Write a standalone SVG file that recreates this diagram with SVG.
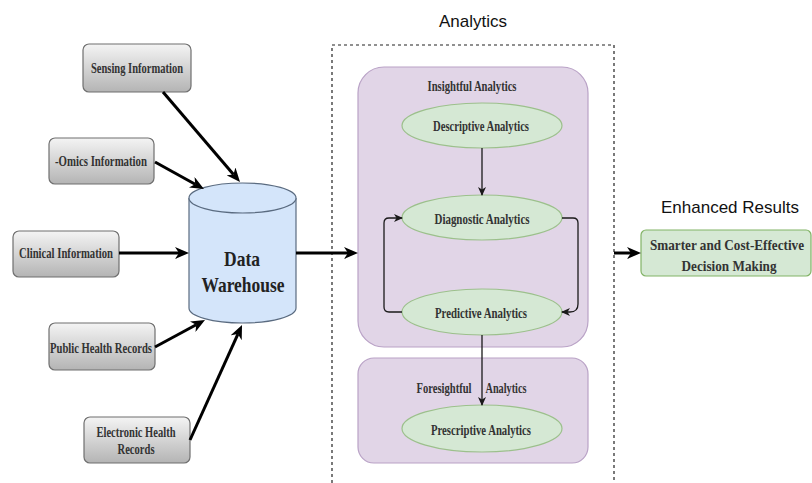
<svg xmlns="http://www.w3.org/2000/svg" width="812" height="483" viewBox="0 0 812 483">
  <style>
    .src { stroke: #6f6f6f; stroke-width: 1.2; fill: url(#grayGrad); }
    .srcText { font-family: "Liberation Serif", "Times New Roman", serif; font-weight: bold; font-size: 15.5px; fill: #333; text-anchor: middle; }
    .group { fill: #e1d5e7; stroke: #b9a2c6; stroke-width: 1.2; }
    .stage { fill: #d5e8d4; stroke: #9cc08c; stroke-width: 1.2; }
    .stageText { font-family: "Liberation Serif", "Times New Roman", serif; font-weight: bold; font-size: 15.5px; fill: #333; text-anchor: middle; }
    .title { font-family: "Liberation Sans", Arial, sans-serif; font-size: 17px; fill: #111; text-anchor: middle; }
    .thick { stroke: #000; stroke-width: 3; fill: none; marker-end: url(#bigHead); }
    .thin { stroke: #1a1a1a; stroke-width: 1.3; fill: none; marker-end: url(#smallHead); }
  </style>
  <defs>
    <linearGradient id="grayGrad" x1="0" y1="0" x2="0" y2="1">
      <stop offset="0" stop-color="#f4f4f4"/>
      <stop offset="1" stop-color="#b4b4b4"/>
    </linearGradient>
    <marker id="bigHead" viewBox="0 0 14 12" refX="4" refY="6" markerWidth="14" markerHeight="12" markerUnits="userSpaceOnUse" orient="auto">
      <path d="M0,0 L14,6 L0,12 L4,6 z" fill="#000"/>
    </marker>
    <marker id="smallHead" viewBox="0 0 9 8" refX="8" refY="4" markerWidth="9" markerHeight="8" markerUnits="userSpaceOnUse" orient="auto">
      <path d="M0,0 L9,4 L0,8 L2.5,4 z" fill="#1a1a1a"/>
    </marker>
  </defs>

  <rect width="812" height="483" fill="#fff"/>

  <!-- Analytics frame (open at the bottom) -->
  <g id="analytics-frame">
    <path d="M332,483 V45 H614 V483" fill="none" stroke="#222" stroke-width="1.2" stroke-dasharray="3,3"/>
    <text class="title" x="473" y="27">Analytics</text>
  </g>

  <!-- Data sources -->
  <g id="sensing">
    <rect class="src" x="83" y="44" width="108" height="48" rx="6"/>
    <text class="srcText" x="137" y="73" textLength="92" lengthAdjust="spacingAndGlyphs">Sensing Information</text>
  </g>
  <g id="omics">
    <rect class="src" x="49" y="138" width="105" height="46" rx="6"/>
    <text class="srcText" x="101" y="166" textLength="92" lengthAdjust="spacingAndGlyphs">-Omics Information</text>
  </g>
  <g id="clinical">
    <rect class="src" x="13" y="231" width="106" height="46" rx="6"/>
    <text class="srcText" x="66" y="258" textLength="94" lengthAdjust="spacingAndGlyphs">Clinical Information</text>
  </g>
  <g id="public-health">
    <rect class="src" x="49" y="323" width="106" height="47" rx="6"/>
    <text class="srcText" x="101" y="353" textLength="102" lengthAdjust="spacingAndGlyphs">Public Health Records</text>
  </g>
  <g id="ehr">
    <rect class="src" x="84" y="417" width="106" height="46" rx="6"/>
    <text class="srcText" x="136" y="437" textLength="79" lengthAdjust="spacingAndGlyphs">Electronic Health</text>
    <text class="srcText" x="136" y="454" textLength="37" lengthAdjust="spacingAndGlyphs">Records</text>
  </g>

  <!-- Data warehouse cylinder -->
  <g id="warehouse">
    <path d="M189,198 V308 A53.5,15 0 0 0 296,308 V198" fill="#d4e5fa" stroke="#5a6b80" stroke-width="1.2"/>
    <ellipse cx="242.5" cy="198" rx="53.5" ry="15" fill="#d4e5fa" stroke="#5a6b80" stroke-width="1.2"/>
    <text x="242" y="266" font-family="Liberation Serif, Times New Roman, serif" font-weight="bold" font-size="22" fill="#222" text-anchor="middle" textLength="36" lengthAdjust="spacingAndGlyphs">Data</text>
    <text x="243" y="292" font-family="Liberation Serif, Times New Roman, serif" font-weight="bold" font-size="22" fill="#222" text-anchor="middle" textLength="83" lengthAdjust="spacingAndGlyphs">Warehouse</text>
  </g>

  <!-- Analytic groups -->
  <g id="insightful">
    <rect class="group" x="358" y="67" width="230" height="280" rx="26"/>
    <text class="stageText" x="472" y="91" textLength="89" lengthAdjust="spacingAndGlyphs">Insightful Analytics</text>
  </g>
  <g id="foresightful">
    <rect class="group" x="358" y="358" width="230" height="105" rx="16"/>
    <text class="stageText" x="444" y="393" textLength="55" lengthAdjust="spacingAndGlyphs">Foresightful</text>
    <text class="stageText" x="506" y="393" textLength="41" lengthAdjust="spacingAndGlyphs">Analytics</text>
  </g>

  <g id="descriptive">
    <ellipse class="stage" cx="482" cy="125.5" rx="80" ry="22.5"/>
    <text class="stageText" x="481" y="131" textLength="96" lengthAdjust="spacingAndGlyphs">Descriptive Analytics</text>
  </g>
  <g id="diagnostic">
    <ellipse class="stage" cx="482" cy="217.5" rx="80" ry="22.5"/>
    <text class="stageText" x="482" y="224" textLength="95" lengthAdjust="spacingAndGlyphs">Diagnostic Analytics</text>
  </g>
  <g id="predictive">
    <ellipse class="stage" cx="482" cy="312" rx="80" ry="23"/>
    <text class="stageText" x="481" y="318" textLength="92" lengthAdjust="spacingAndGlyphs">Predictive Analytics</text>
  </g>
  <g id="prescriptive">
    <ellipse class="stage" cx="482" cy="428.5" rx="80" ry="23.5"/>
    <text class="stageText" x="481" y="435" textLength="100" lengthAdjust="spacingAndGlyphs">Prescriptive Analytics</text>
  </g>

  <!-- Outcome -->
  <g id="results">
    <text class="title" x="730" y="213">Enhanced Results</text>
    <rect x="641" y="230" width="170" height="46" rx="5" fill="#d5e8d4" stroke="#82b366" stroke-width="1.2"/>
    <text class="stageText" x="727" y="250" textLength="154" lengthAdjust="spacingAndGlyphs">Smarter and Cost-Effective</text>
    <text class="stageText" x="729" y="271" textLength="95" lengthAdjust="spacingAndGlyphs">Decision Making</text>
  </g>

  <!-- Connectors -->
  <g id="connectors">
    <line class="thick" x1="163" y1="92" x2="233.5" y2="174.4"/>
    <line class="thick" x1="155" y1="162" x2="195.2" y2="184.2"/>
    <line class="thick" x1="119" y1="253" x2="179" y2="253"/>
    <line class="thick" x1="155" y1="347" x2="196.2" y2="324.8"/>
    <line class="thick" x1="190" y1="440" x2="237.9" y2="334.1"/>
    <line class="thick" x1="296" y1="253" x2="348" y2="253"/>
    <line class="thick" x1="614" y1="253" x2="631" y2="253"/>

    <path class="thin" d="M482,148 V195"/>
    <path class="thin" d="M562,218 H573 Q578,218 578,223 V304 Q578,312 570,312 H562"/>
    <path class="thin" d="M402,312 H389 Q384,312 384,307 V223 Q384,218 389,218 H402"/>
    <path class="thin" d="M482,335 V405"/>
  </g>
</svg>
